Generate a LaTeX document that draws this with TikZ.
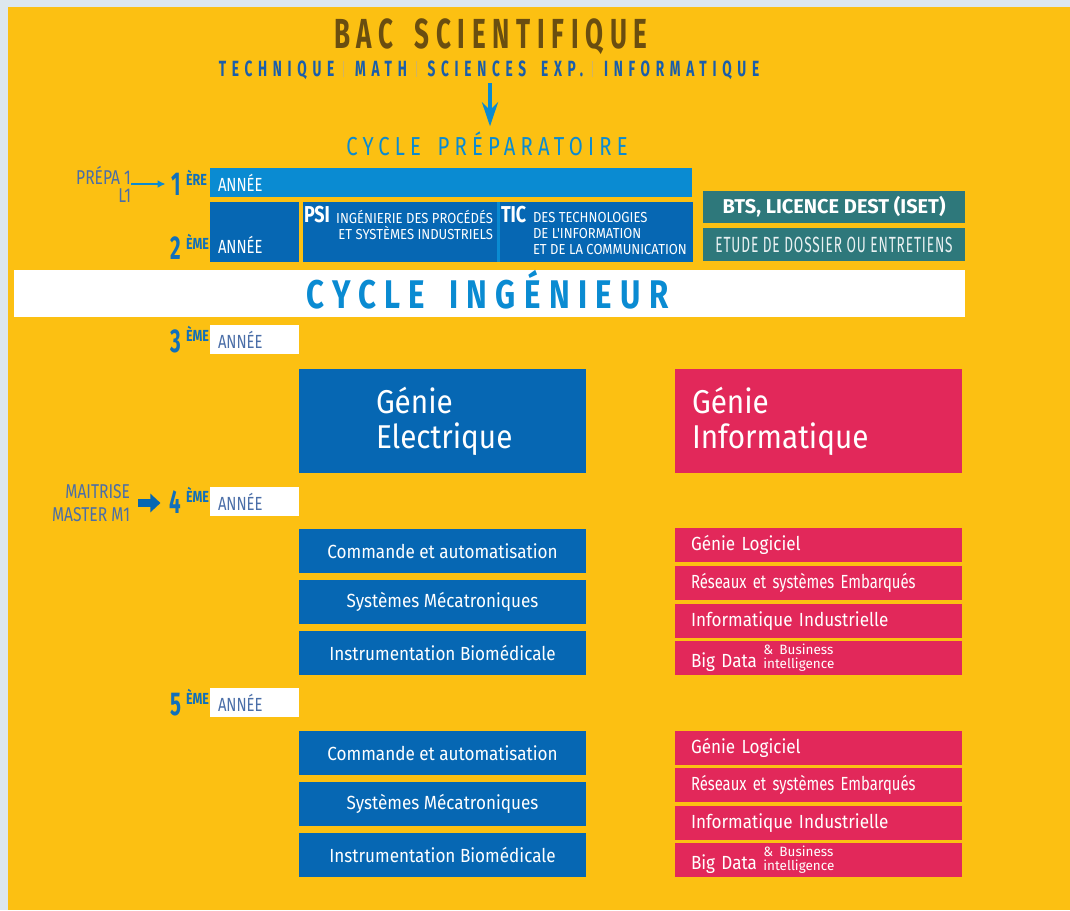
\documentclass[tikz,border=0pt]{standalone}
\usepackage{fontspec}
\setmainfont{Fira Sans}
\newfontfamily\etroit[FakeStretch=0.62]{Fira Sans}
\newfontfamily\demi[FakeStretch=0.78]{Fira Sans}
\newfontfamily\rond[FakeStretch=0.9]{Fira Sans}
\usetikzlibrary{arrows.meta}

\definecolor{fondF}{HTML}{DDE7EE}
\definecolor{jauneF}{HTML}{FCC012}
\definecolor{brunF}{HTML}{6A4E10}
\definecolor{cielF}{HTML}{0A8BD2}
\definecolor{bleuF}{HTML}{0667B3}
\definecolor{titreF}{HTML}{1A5EAA}
\definecolor{numF}{HTML}{1070BB}
\definecolor{roseF}{HTML}{E2285A}
\definecolor{sarcelleF}{HTML}{2E787B}
\definecolor{ardoiseF}{HTML}{4A6EA8}
\definecolor{traitF}{HTML}{D2B460}

\newcommand\barre{\hspace{9pt}\textcolor{traitF}{\rule[-1pt]{0.8pt}{16pt}}\hspace{11pt}}
\newcommand\bigdata{Big Data \raisebox{-1pt}{\normalfont\fontsize{13.5}{13}\selectfont\begin{tabular}[b]{@{}l@{}}\& Business\\intelligence\end{tabular}}}

\begin{document}
\begin{tikzpicture}[x=1pt, y=-1pt,
  every node/.style={inner sep=0pt, outer sep=0pt, text=white}
]
\tikzset{
  ciel/.style={fill=cielF, anchor=north west},
  bleu/.style={fill=bleuF, anchor=north west, minimum width=287, minimum height=44,
    font=\rond\fontsize{19}{20}\selectfont},
  rose/.style={fill=roseF, anchor=north west, minimum width=287, minimum height=34,
    text width=255, inner xsep=16, align=left, font=\rond\fontsize{19}{20}\selectfont},
  blanc/.style={fill=white, anchor=north west, minimum width=89, minimum height=29,
    text width=73, inner xsep=8, align=left, text=ardoiseF, font=\demi\fontsize{19}{19}\selectfont},
  sarcelle/.style={fill=sarcelleF, anchor=north west, minimum width=262, minimum height=32},
  num/.style={anchor=base east, text=numF, font=\etroit\bfseries\fontsize{33}{33}\selectfont},
  expo/.style={anchor=base west, text=numF, font=\demi\bfseries\fontsize{16}{16}\selectfont},
  gauche/.style={anchor=east, align=right, text=ardoiseF, font=\demi\fontsize{20}{23}\selectfont}
}
\useasboundingbox (0,0) rectangle (1070,910);
\fill[fondF] (0,0) rectangle (1070,910);
\fill[jauneF] (8,7) rectangle (1070,910);

% en-tete
\node[anchor=base, text=brunF, font=\etroit\bfseries\fontsize{42}{42}\selectfont\addfontfeature{LetterSpace=16}] (bac) at (491,48) {BAC\hspace{8pt} SCIENTIFIQUE};
\node[anchor=base, text=titreF, font=\etroit\bfseries\fontsize{22}{22}\selectfont\addfontfeature{LetterSpace=26}] (sub) at (489,76)
  {TECHNIQUE\barre MATH\barre SCIENCES\hspace{6pt} EXP.\barre INFORMATIQUE};
\node[anchor=base, text=cielF, font=\demi\fontsize{26}{26}\selectfont\addfontfeature{LetterSpace=20}] (prep) at (487,155) {CYCLE\hspace{6pt} PRÉPARATOIRE};
\draw[cielF, line width=4.5pt, -{Stealth[length=24pt, width=16pt, inset=8pt]}, shorten <=4pt, shorten >=5pt]
  ([xshift=3pt]sub.south -| prep.north) -- ([xshift=3pt]prep.north);

% 1ere et 2eme annee
\node[gauche, font=\demi\fontsize{20}{18}\selectfont] (prepa) at (131,184) {PRÉPA 1\\L1};
\node[num] (n1) at (181,195) {1};
\node[expo] (e1) at (186,185) {ÈRE};
\draw[cielF, line width=2pt, -{Latex[length=8pt, width=8pt]}, shorten >=6pt] (prepa.east) -- (prepa.east -| n1.west);
\node[ciel, minimum width=482, minimum height=29, text width=466, inner xsep=8, align=left,
  font=\demi\fontsize{19}{19}\selectfont] (an1) at (210,168) {ANNÉE};

\node[num] (n2) at (181,259) {2};
\node[expo] (e2) at (186,249) {ÈME};
\node[fill=bleuF, anchor=north west, minimum width=89, minimum height=60] (an2) at (210,202) {};
\node[anchor=base west, font=\demi\fontsize{19}{19}\selectfont] (an2t) at ([xshift=8pt, yshift=9pt]an2.south west) {ANNÉE};

\node[fill=bleuF, anchor=north west, minimum width=194, minimum height=60] (psi) at (303,202) {};
\node[anchor=base west, font=\demi\bfseries\fontsize{23}{23}\selectfont] (psiT) at ([xshift=1pt, yshift=-20pt]psi.north west) {PSI};
\node[anchor=north east, align=right, font=\rond\fontsize{14.5}{16}\selectfont] (psiD) at ([xshift=-4pt, yshift=-8pt]psi.north east)
  {INGÉNIERIE DES PROCÉDÉS\\ET SYSTÈMES INDUSTRIELS};
\node[fill=bleuF, anchor=north west, minimum width=193, minimum height=60] (tic) at (500,202) {};
\node[anchor=base west, font=\demi\bfseries\fontsize{23}{23}\selectfont] (ticT) at ([xshift=1pt, yshift=-20pt]tic.north west) {TIC};
\node[anchor=north west, align=left, font=\rond\fontsize{14.5}{16}\selectfont] (ticD) at ([xshift=33pt, yshift=-10pt]tic.north west)
  {DES TECHNOLOGIES\\DE L'INFORMATION\\ET DE LA COMMUNICATION};
\draw[cielF, line width=3pt] ([xshift=1.5pt]psi.north east) -- ([xshift=1.5pt]psi.south east);

\node[sarcelle, font=\normalfont\bfseries\fontsize{20}{20}\selectfont] (bts) at (703,191) {BTS, LICENCE DEST (ISET)};
\node[sarcelle, minimum height=33, text=white!90!sarcelleF, font=\etroit\fontsize{22}{22}\selectfont\addfontfeature{LetterSpace=4}] (etude) at (703,228) {ETUDE DE DOSSIER OU ENTRETIENS};

% cycle ingenieur
\node[fill=white, anchor=north west, minimum width=951, minimum height=47] (ciBox) at (14,270) {};
\node[anchor=base, text=cielF, font=\demi\bfseries\fontsize{40}{40}\selectfont\addfontfeature{LetterSpace=21}] (ci) at ([xshift=-2pt, yshift=9pt]ciBox.south) {CYCLE\hspace{8pt} INGÉNIEUR};

\node[num] (n3) at (181,352) {3};
\node[expo] (e3) at (186,341) {ÈME};
\node[blanc] (an3) at (210,325) {ANNÉE};

\node[bleu, minimum height=104, text width=133, inner xsep=77, align=left, font=\rond\fontsize{33}{35}\selectfont] (ge) at (299,369) {Génie\\Electrique};
\node[rose, minimum height=104, text width=253, inner xsep=17, font=\rond\fontsize{33}{35}\selectfont] (gi) at (675,369) {Génie\\Informatique};

% 4eme annee
\node[gauche] (mait) at (130,503) {MAITRISE\\MASTER M1};
\node[num] (n4) at (181,513) {4};
\node[expo] (e4) at (186,502) {ÈME};
\draw[bleuF, line width=8pt, -{Triangle[length=10pt, width=18pt]}, shorten <=8pt, shorten >=9pt] (mait.east) -- (mait.east -| n4.west);
\node[blanc] (an4) at (210,487) {ANNÉE};

\node[bleu] (ca4) at (299,529) {Commande et automatisation};
\node[bleu] (sm4) at (299,580) {Systèmes Mécatroniques};
\node[bleu] (ib4) at (299,631) {Instrumentation Biomédicale};
\node[rose] (gl4) at (675,528) {Génie Logiciel};
\node[rose, font=\demi\fontsize{19}{20}\selectfont] (rs4) at (675,566) {Réseaux et systèmes Embarqués};
\node[rose] (ii4) at (675,604) {Informatique Industrielle};
\node[rose] (bd4) at (675,641) {\bigdata};

% 5eme annee
\node[num] (n5) at (181,715) {5};
\node[expo] (e5) at (186,704) {ÈME};
\node[blanc] (an5) at (210,688) {ANNÉE};

\node[bleu] (ca5) at (299,731) {Commande et automatisation};
\node[bleu] (sm5) at (299,782) {Systèmes Mécatroniques};
\node[bleu] (ib5) at (299,833) {Instrumentation Biomédicale};
\node[rose] (gl5) at (675,731) {Génie Logiciel};
\node[rose, font=\demi\fontsize{19}{20}\selectfont] (rs5) at (675,768) {Réseaux et systèmes Embarqués};
\node[rose] (ii5) at (675,806) {Informatique Industrielle};
\node[rose] (bd5) at (675,843) {\bigdata};
\end{tikzpicture}
\end{document}
